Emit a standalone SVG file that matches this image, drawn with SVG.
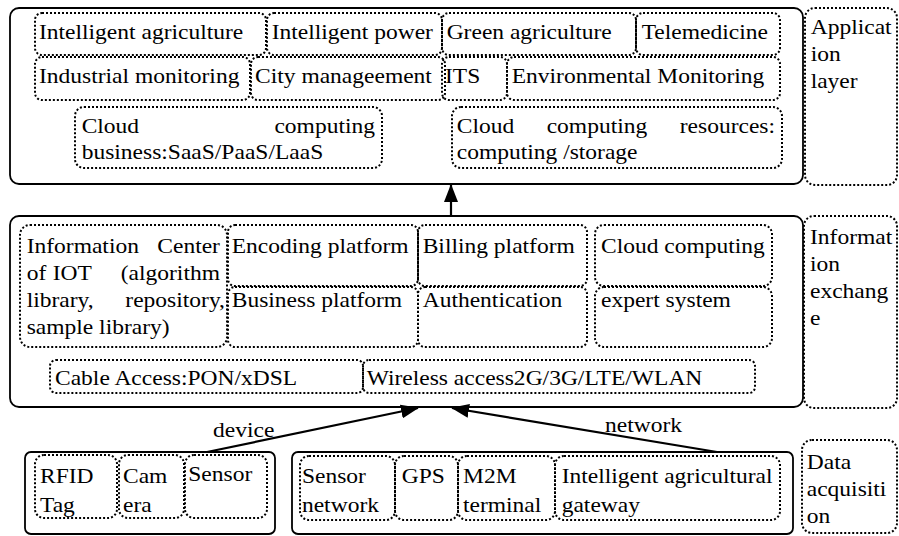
<svg xmlns="http://www.w3.org/2000/svg" width="899" height="536" viewBox="0 0 899 536" font-family="'Liberation Serif', 'Times New Roman', 'DejaVu Serif', serif">
<style>
  .outer { fill: none; stroke: #000; stroke-width: 1.8; }
  .dot { fill: none; stroke: #000; stroke-width: 2; stroke-dasharray: 2 2; }
  text { font-family: 'Liberation Serif', 'Times New Roman', 'DejaVu Serif', serif; font-size: 21px; fill: #000; }
  .conn { stroke: #000; stroke-width: 2.2; fill: none; }
</style>
<defs>
  <marker id="ah" markerUnits="userSpaceOnUse" markerWidth="18" markerHeight="14" viewBox="0 0 18 14" refX="17" refY="7" orient="auto">
    <path d="M0,0 L18,7 L0,14 Z" fill="#000"/>
  </marker>
</defs>
<rect width="899" height="536" fill="#fff"/>

<!-- Application layer -->
<g id="application-layer">
  <rect class="outer" x="10" y="8" width="793" height="176" rx="9"/>
  <g id="intelligent-agriculture"><rect class="dot" x="35" y="13" width="231" height="42" rx="7"/><text transform="scale(1.12 1)" x="34.8" y="39">Intelligent agriculture</text></g>
  <g id="intelligent-power"><rect class="dot" x="267" y="13" width="175" height="42" rx="7"/><text transform="scale(1.12 1)" x="242.6" y="39">Intelligent power</text></g>
  <g id="green-agriculture"><rect class="dot" x="442" y="13" width="194" height="42" rx="7"/><text transform="scale(1.12 1)" x="398.8" y="39">Green agriculture</text></g>
  <g id="telemedicine"><rect class="dot" x="636" y="13" width="144" height="42" rx="7"/><text transform="scale(1.12 1)" x="572.9" y="39">Telemedicine</text></g>
  <g id="industrial-monitoring"><rect class="dot" x="35" y="57" width="215" height="43" rx="7"/><text transform="scale(1.12 1)" x="34.8" y="83">Industrial monitoring</text></g>
  <g id="city-management"><rect class="dot" x="251" y="57" width="194" height="43" rx="7"/><text transform="scale(1.12 1)" x="227.7" y="83">City manageement</text></g>
  <g id="its"><rect class="dot" x="442" y="57" width="65" height="43" rx="7"/><text transform="scale(1.12 1)" x="397.3" y="83">ITS</text></g>
  <g id="environmental-monitoring"><rect class="dot" x="507" y="57" width="273" height="43" rx="7"/><text transform="scale(1.12 1)" x="456.9" y="83">Environmental Monitoring</text></g>
  <g id="cloud-business"><rect class="dot" x="75" y="107" width="307" height="61" rx="9"/>
    <text transform="scale(1.12 1)" x="72.9" y="133">Cloud</text>
    <text transform="scale(1.12 1)" x="334.8" y="133" text-anchor="end">computing</text>
    <text transform="scale(1.12 1)" x="72.9" y="159">business:SaaS/PaaS/LaaS</text></g>
  <g id="cloud-resources"><rect class="dot" x="452" y="107" width="330" height="61" rx="9"/>
    <text transform="scale(1.12 1)" x="407.8" y="133">Cloud</text>
    <text transform="scale(1.12 1)" x="488.1" y="133">computing</text>
    <text transform="scale(1.12 1)" x="692" y="133" text-anchor="end">resources:</text>
    <text transform="scale(1.12 1)" x="407.8" y="159">computing /storage</text></g>
</g>
<g id="label-application">
  <rect class="dot" x="805" y="8" width="92" height="177" rx="10"/>
  <text transform="scale(1.12 1)" x="723.8" y="34">Applicat<tspan x="723.8" y="61">ion</tspan><tspan x="723.8" y="88">layer</tspan></text>
</g>

<!-- Information exchange -->
<g id="information-exchange">
  <rect class="outer" x="10" y="216" width="793" height="191" rx="9"/>
  <g id="info-center"><rect class="dot" x="20" y="225" width="207" height="122" rx="10"/>
    <text transform="scale(1.12 1)" x="23.8" y="253">Information</text>
    <text transform="scale(1.12 1)" x="196.4" y="253" text-anchor="end">Center</text>
    <text transform="scale(1.12 1)" x="23.8" y="280">of</text>
    <text transform="scale(1.12 1)" x="47" y="280">IOT</text>
    <text transform="scale(1.12 1)" x="196.4" y="280" text-anchor="end">(algorithm</text>
    <text transform="scale(1.12 1)" x="23.8" y="307">library,</text>
    <text transform="scale(1.12 1)" x="200.9" y="307" text-anchor="end">repository,</text>
    <text transform="scale(1.12 1)" x="23.8" y="334">sample library)</text></g>
  <g id="encoding-platform"><rect class="dot" x="228" y="225" width="190" height="61" rx="7"/><text transform="scale(1.12 1)" x="206.9" y="253">Encoding platform</text></g>
  <g id="business-platform"><rect class="dot" x="228" y="287" width="190" height="60" rx="7"/><text transform="scale(1.12 1)" x="206.9" y="307">Business platform</text></g>
  <g id="billing-platform"><rect class="dot" x="418" y="225" width="169" height="61" rx="7"/><text transform="scale(1.12 1)" x="377.4" y="253">Billing platform</text></g>
  <g id="authentication"><rect class="dot" x="418" y="287" width="169" height="60" rx="7"/><text transform="scale(1.12 1)" x="377.4" y="307">Authentication</text></g>
  <g id="cloud-computing"><rect class="dot" x="595" y="225" width="177" height="61" rx="9"/><text transform="scale(1.12 1)" x="536.6" y="253">Cloud computing</text></g>
  <g id="expert-system"><rect class="dot" x="595" y="287" width="177" height="60" rx="9"/><text transform="scale(1.12 1)" x="536.6" y="307">expert system</text></g>
  <g id="cable-access"><rect class="dot" x="50" y="360" width="313" height="33" rx="6"/><text transform="scale(1.12 1)" x="49.1" y="385">Cable Access:PON/xDSL</text></g>
  <g id="wireless-access"><rect class="dot" x="363" y="360" width="392" height="33" rx="6"/><text transform="scale(1.12 1)" x="327.4" y="385">Wireless access2G/3G/LTE/WLAN</text></g>
</g>
<g id="label-information">
  <rect class="dot" x="804" y="216" width="93" height="192" rx="10"/>
  <text transform="scale(1.12 1)" x="723.2" y="244">Informat<tspan x="723.2" y="271">ion</tspan><tspan x="723.2" y="298">exchang</tspan><tspan x="723.2" y="325">e</tspan></text>
</g>

<!-- Data acquisition -->
<g id="devices">
  <rect class="outer" x="25" y="452" width="250" height="82" rx="6"/>
  <g id="rfid"><rect class="dot" x="35" y="455" width="82" height="63" rx="9"/><text transform="scale(1.12 1)" x="35.7" y="483">RFID<tspan x="35.7" y="512">Tag</tspan></text></g>
  <g id="camera"><rect class="dot" x="119" y="455" width="65" height="63" rx="9"/><text transform="scale(1.12 1)" x="109.8" y="483">Cam<tspan x="109.8" y="512">era</tspan></text></g>
  <g id="sensor"><rect class="dot" x="185" y="455" width="82" height="63" rx="9"/><text transform="scale(1.12 1)" x="168.1" y="481">Sensor</text></g>
</g>
<g id="networks">
  <rect class="outer" x="292" y="452" width="501" height="82" rx="6"/>
  <g id="sensor-network"><rect class="dot" x="300" y="456" width="95" height="64" rx="9"/><text transform="scale(1.12 1)" x="269.6" y="483">Sensor<tspan x="269.6" y="512">network</tspan></text></g>
  <g id="gps"><rect class="dot" x="395" y="456" width="63" height="64" rx="9"/><text transform="scale(1.12 1)" x="358.7" y="483">GPS</text></g>
  <g id="m2m"><rect class="dot" x="458" y="456" width="97" height="64" rx="9"/><text transform="scale(1.12 1)" x="413.4" y="483">M2M<tspan x="413.4" y="512">terminal</tspan></text></g>
  <g id="gateway"><rect class="dot" x="555" y="456" width="225" height="64" rx="9"/><text transform="scale(1.12 1)" x="501.5" y="483">Intelligent agricultural<tspan x="501.5" y="512">gateway</tspan></text></g>
</g>
<g id="label-data">
  <rect class="dot" x="802" y="440" width="95" height="93" rx="10"/>
  <text transform="scale(1.12 1)" x="720.3" y="469">Data<tspan x="720.3" y="496">acquisiti</tspan><tspan x="720.3" y="523">on</tspan></text>
</g>

<!-- Connectors -->
<g id="connectors">
  <line class="conn" x1="451" y1="216" x2="451" y2="185" marker-end="url(#ah)"/>
  <line class="conn" x1="207" y1="452" x2="418" y2="408" marker-end="url(#ah)"/>
  <line class="conn" x1="717" y1="452" x2="452" y2="408" marker-end="url(#ah)"/>
  <text transform="scale(1.12 1)" x="190.2" y="437">device</text>
  <text transform="scale(1.12 1)" x="540.2" y="432">network</text>
</g>
</svg>
